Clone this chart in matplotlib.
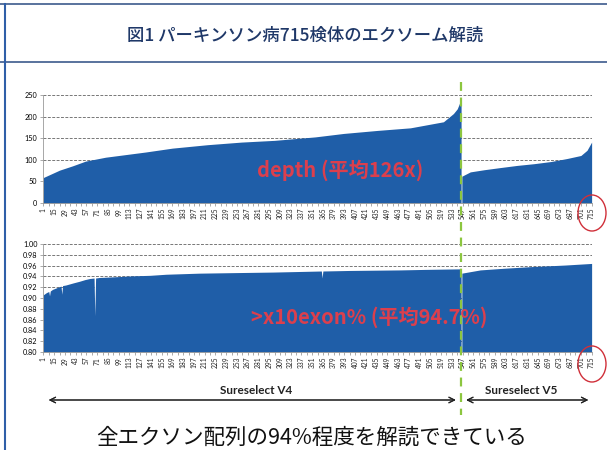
import numpy as np
import matplotlib.pyplot as plt
from matplotlib.patches import Ellipse
from matplotlib.lines import Line2D

plt.rcParams['font.family'] = ['Noto Sans CJK JP', 'DejaVu Sans']

# sample counts per capture kit
n_total = 715
n_v4 = 545

# mean depth, sorted within each kit (sample number, depth)
depth_v4_idx = [1, 22, 39, 56, 82, 108, 134, 169, 215, 259, 302, 355, 392, 436, 479, 522, 535, 540, 545]
depth_v4 = [59, 76, 86, 97, 106, 112, 118, 127, 135, 141, 145, 153, 161, 168, 174, 188, 207, 218, 240]
depth_v5_idx = [546, 557, 575, 596, 618, 640, 662, 683, 701, 709, 715]
depth_v5 = [62, 72, 77, 82, 87, 91, 96, 103, 110, 122, 141]

# fraction of exons covered >x10
cov_v4_idx = [1, 5, 8, 9, 10, 13, 20, 24, 25, 26, 30, 40, 48, 55, 61, 67, 68, 69, 74,
              90, 117, 140, 161, 204, 250, 300, 363, 364, 365, 400, 466, 500, 545]
cov_v4 = [0.906, 0.910, 0.912, 0.904, 0.913, 0.916, 0.920, 0.922, 0.907, 0.923, 0.924,
          0.928, 0.931, 0.934, 0.936, 0.937, 0.867, 0.937, 0.938, 0.939, 0.941, 0.942,
          0.944, 0.946, 0.947, 0.948, 0.950, 0.937, 0.950, 0.951, 0.952, 0.953, 0.954]
cov_v5_idx = [546, 570, 600, 635, 680, 715]
cov_v5 = [0.946, 0.952, 0.955, 0.958, 0.961, 0.964]

tick_pos = list(range(1, n_total + 1, 14))
tick_lab = [str(t) for t in tick_pos]

blue = '#1f5ea8'
red = '#dc3f4d'
green = '#8cc63f'

fig = plt.figure(figsize=(6.07, 4.5), dpi=100)
left, width = 43 / 607, 549 / 607
ax1 = fig.add_axes([left, 1 - 203 / 450, width, 108 / 450])
ax2 = fig.add_axes([left, 1 - 352 / 450, width, 108 / 450])


def style_axes(ax):
    ax.set_xlim(0.5, n_total + 0.5)
    ax.set_xticks(tick_pos)
    ax.set_xticklabels(tick_lab, rotation=90, fontsize=4.8, family='Lato', color='#222222')
    ax.set_xticks(range(1, n_total + 1, 7), minor=True)
    ax.tick_params(axis='x', which='both', length=2, width=0.5, color='#888888', pad=1.5)
    ax.tick_params(axis='y', length=2, width=0.5, color='#888888', labelsize=5.2, pad=2)
    for lab in ax.get_yticklabels():
        lab.set_family('Lato')
    ax.yaxis.grid(True, color='#777777', linestyle=(0, (3, 1.5)), linewidth=0.7)
    ax.set_axisbelow(True)
    for s in ['top', 'right']:
        ax.spines[s].set_visible(False)
    for s in ['left', 'bottom']:
        ax.spines[s].set_color('#999999')
        ax.spines[s].set_linewidth(0.6)


# depth
ax1.fill_between(depth_v4_idx, depth_v4, color=blue, lw=0)
ax1.fill_between(depth_v5_idx, depth_v5, color=blue, lw=0)
ax1.set_ylim(0, 250)
ax1.set_yticks([0, 50, 100, 150, 200, 250])
style_axes(ax1)
ax1.text(279, 76, 'depth (平均126x)', color=red, fontsize=14.5, fontweight='bold', va='center')

# coverage
ax2.fill_between(cov_v4_idx, cov_v4, 0.8, color=blue, lw=0)
ax2.fill_between(cov_v5_idx, cov_v5, 0.8, color=blue, lw=0)
ax2.set_ylim(0.8, 1.0)
ax2.set_yticks(np.arange(0.80, 1.001, 0.02))
ax2.set_yticklabels(['%.2f' % v for v in np.arange(0.80, 1.001, 0.02)])
style_axes(ax2)
ax2.text(272, 0.864, '>x10exon% (平均94.7%)', color=red, fontsize=14.5, fontweight='bold', va='center')

# kit boundary
xb = left + width * (n_v4 + 0.5 - 0.5) / n_total
fig.add_artist(Line2D([xb, xb], [1 - 82 / 450, 1 - 415 / 450], color=green,
                      lw=1.6, linestyle=(0, (4, 3))))

# kit ranges
ya = 1 - 400 / 450
fig.add_artist(plt.annotate('', xy=(46 / 607, ya), xytext=(xb - 3 / 607, ya), xycoords='figure fraction',
                            arrowprops=dict(arrowstyle='<->', lw=0.8, color='#222222')))
fig.add_artist(plt.annotate('', xy=(xb + 2 / 607, ya), xytext=(591 / 607, ya), xycoords='figure fraction',
                            arrowprops=dict(arrowstyle='<->', lw=0.8, color='#222222')))
fig.text(256 / 607, 1 - 390 / 450, 'Sureselect V4', family='Lato', fontweight='bold',
         fontsize=8.5, ha='center', va='center', color='#222222')
fig.text(521 / 607, 1 - 390 / 450, 'Sureselect V5', family='Lato', fontweight='bold',
         fontsize=8.5, ha='center', va='center', color='#222222')

# last sample marks
for yc in [213, 364]:
    fig.add_artist(Ellipse((592 / 607, 1 - yc / 450), 28 / 607, 36 / 450,
                           transform=fig.transFigure, fill=False, ec='#d0303a', lw=1))

# title and frame
fig.text(305 / 607, 1 - 36 / 450, '図1 パーキンソン病715検体のエクソーム解読', fontsize=12.5,
         color='#1f3868', ha='center', va='center', fontweight='medium')
fig.add_artist(Line2D([0, 1], [1 - 62 / 450, 1 - 62 / 450], color='#3c5a8c', lw=1.2))
fig.add_artist(Line2D([0, 1], [1 - 4 / 450, 1 - 4 / 450], color='#3c5a8c', lw=1.2))
fig.add_artist(Line2D([5 / 607, 5 / 607], [0, 1 - 4 / 450], color='#2f5fa8', lw=1.5))
fig.text(312 / 607, 1 - 438 / 450, '全エクソン配列の94%程度を解読できている', fontsize=15.5,
         color='#111111', ha='center', va='center')

fig.savefig('out.png', dpi=100)
